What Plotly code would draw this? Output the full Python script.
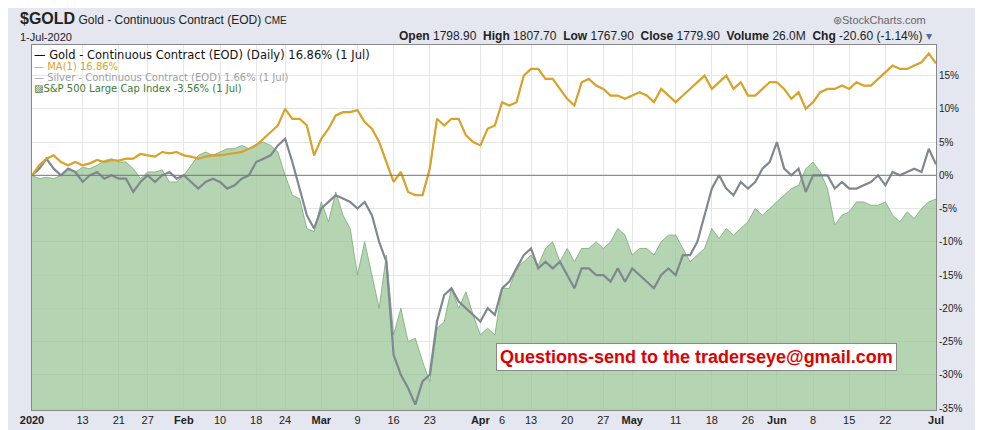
import pandas as pd
import plotly.graph_objects as go

holidays = ["2020-01-20", "2020-02-17", "2020-04-10", "2020-05-25"]
dates = [d for d in pd.bdate_range("2020-01-02", "2020-07-01").strftime("%Y-%m-%d") if d not in holidays]

gold = [0,1.5,2.5,3,2,1.5,2,1.5,1.8,2.3,2,2.3,2.2,2.5,2.5,3.2,3,2.8,3.5,3.3,3.5,
        3,2.8,2.5,2.8,3,3,3.2,3.3,3.5,4,4.5,5.5,6.5,7.5,10,8.5,8.5,7.5,3,
        5.5,7,9,9.5,9.5,9.8,8,7,5,2,-1,0.5,-2.5,-3,-3,1,8.5,7.5,8.5,8.5,6,5,
        4.5,7,7.5,11,10.5,11,15,16,16,14.5,14.5,13,11.5,10.5,14,14.5,13.5,13,12,12,11.5,
        12,12.5,12,11,13,12,11,12,13,14,15,13,14,15,13,14,12,12,13,14,
        14,13,11.5,12.5,10,11,12.5,13,13,13.5,13,14,13.5,13.5,14.5,15.5,16.5,16,16,16.5,17,18.3,
        16.86]
silver = [0,1,2.5,1,0,1,0.5,-1,0,0.5,-0.5,0,-0.5,-0.5,-2.5,-1,0,-1,0,0.5,-0.5,
          0,-1,-2,-1,-0.5,-1,-2,-1.5,-0.5,0,2,2.5,3,4.5,5.5,2,-2,-6,-8,
          -5,-4,-3,-3.5,-4,-5,-4,-6,-10,-13,-27,-30,-32,-34.5,-31,-30,-22,-18,-17,-19,-20,-21,
          -22,-20,-21,-17,-16,-14,-12,-11,-14,-13,-14,-13,-15,-17,-14,-14,-15,-15,-16,-14,-16,
          -14,-15,-16,-17,-15,-14,-15,-12,-12,-10,-6,-2,0,-2,-3,-1,-2,-1,1,2,
          5,1,0,1,-2.5,0,0,0,-2,-1,-2,-2,-1.5,-1,0,-1.5,0.5,0,0.5,1,0.5,4,
          1.66]
spx = [0,-0.5,-0.3,-0.5,0,1,0.5,1.2,1,1.5,2.2,2.5,2,2,1,-0.5,0.5,0.5,0.8,-1,-1,
       0,1.5,3,3.5,3,3.5,4,4,4.5,4,4.7,5,4.5,3.5,0,-3,-3.5,-8,-8.5,
       -4,-7,-2.5,-6,-8,-15,-10,-15,-20,-12,-24,-20,-25,-24.5,-28,-31,-23,-22,-17,-20,-17.5,-21,
       -24,-23,-24,-17,-17,-14,-13,-12,-13.5,-11,-10,-13,-11,-13,-11,-11,-10,-11,-10,-8,-9,
       -12,-11,-11,-12,-10,-9,-9,-11,-13,-12,-11,-8,-9.5,-8,-9,-8,-7,-5,-6,-5,
       -4,-3,-2,-1.5,1,2,0.5,-2,-7.5,-6,-5.5,-4,-4,-4.5,-4.5,-4,-6,-7,-5.5,-6.5,-5,-4,
       -3.56]

tick_dates = ["2020-01-02","2020-01-13","2020-01-21","2020-01-27","2020-02-03","2020-02-10","2020-02-18",
              "2020-02-24","2020-03-02","2020-03-09","2020-03-16","2020-03-23","2020-04-01","2020-04-06",
              "2020-04-13","2020-04-20","2020-04-27","2020-05-01","2020-05-11","2020-05-18","2020-05-26",
              "2020-06-01","2020-06-08","2020-06-15","2020-06-22","2020-07-01"]
tick_text = ["<b>2020</b>","13","21","27","<b>Feb</b>","10","18","24","<b>Mar</b>","9","16","23","<b>Apr</b>","6",
             "13","20","27","<b>May</b>","11","18","26","<b>Jun</b>","8","15","22","<b>Jul</b>"]
y_ticks = [15,10,5,0,-5,-10,-15,-20,-25,-30,-35]

fig = go.Figure()
fig.add_trace(go.Scatter(x=dates, y=[-40]*len(dates), mode="lines", line=dict(width=0), hoverinfo="skip"))
fig.add_trace(go.Scatter(x=dates, y=spx, mode="lines", fill="tonexty", fillcolor="rgba(150,195,145,0.7)",
                         line=dict(color="rgba(120,170,115,0.8)", width=1)))
fig.add_trace(go.Scatter(x=dates, y=silver, mode="lines", line=dict(color="#7f8890", width=2.2)))
fig.add_trace(go.Scatter(x=dates, y=gold, mode="lines", line=dict(color="#222", width=1)))
fig.add_trace(go.Scatter(x=dates, y=gold, mode="lines", line=dict(color="#d9a32a", width=2.2)))

fig.add_hline(y=0, line=dict(color="#777", width=1))

fig.update_layout(
    width=983, height=430, showlegend=False,
    margin=dict(l=22, r=55, t=37, b=22),
    paper_bgcolor="#e4e7ef", plot_bgcolor="white",
    font=dict(family="Liberation Sans", size=11, color="#222"),
    xaxis=dict(range=["2020-01-02", "2020-07-01"], rangebreaks=[dict(bounds=["sat", "mon"]), dict(values=holidays)],
               tickvals=tick_dates, ticktext=tick_text, showgrid=True, gridcolor="#e6e6e6",
               linecolor="#888", mirror=True, showline=True, ticks="", tickfont=dict(size=11)),
    yaxis=dict(side="right", range=[-35.3, 19.6], tickvals=y_ticks, ticktext=[f"{v}%" for v in y_ticks],
               showgrid=True, gridcolor="#e6e6e6", zeroline=False, linecolor="#888", mirror=True, showline=True,
               tickfont=dict(size=10)),
)

fig.add_annotation(xref="paper", yref="paper", x=-0.014, y=1.046, xanchor="left", yanchor="bottom",
                   text="<span style='font-size:16px'><b>$GOLD</b></span> Gold - Continuous Contract (EOD) <span style='font-size:10px'>CME</span>",
                   showarrow=False, font=dict(size=12), borderpad=0)
fig.add_annotation(xref="paper", yref="paper", x=-0.014, y=1.004, xanchor="left", yanchor="bottom",
                   text="1-Jul-2020", showarrow=False, font=dict(size=11), borderpad=0)
fig.add_annotation(xref="paper", yref="paper", x=0.997, y=1.004, xanchor="right", yanchor="bottom",
                   text="<b>Open</b> 1798.90  <b>High</b> 1807.70  <b>Low</b> 1767.90  <b>Close</b> 1779.90  <b>Volume</b> 26.0M  <b>Chg</b> -20.60 (-1.14%) <span style='color:#4a6fb0'>▾</span>",
                   showarrow=False, font=dict(size=12), borderpad=0)
fig.add_annotation(xref="paper", yref="paper", x=0.99, y=1.05, xanchor="right", yanchor="bottom",
                   text="⊛StockCharts.com", showarrow=False, font=dict(size=11, color="#666"), borderpad=0)
legend = [("— Gold - Continuous Contract (EOD) (Daily) 16.86% (1 Jul)", "#111", 11.5),
          ("— MA(1) 16.86%", "#d9a32a", 10),
          ("— Silver - Continuous Contract (EOD) 1.66% (1 Jul)", "#9aa0a8", 10),
          ("▨S&P 500 Large Cap Index -3.56% (1 Jul)", "#3e7a35", 10)]
ys = [0.997, 0.962, 0.932, 0.902]
for (t, c, s), yy in zip(legend, ys):
    fig.add_annotation(xref="paper", yref="paper", x=0.0, y=yy, xanchor="left", yanchor="top",
                       text=t, showarrow=False, font=dict(family="DejaVu Sans", size=s, color=c))
fig.add_annotation(xref="paper", yref="paper", x=0.513, y=0.145, xanchor="left", yanchor="middle",
                   text="<b>Questions-send to the traderseye@gmail.com</b>", showarrow=False,
                   font=dict(family="Liberation Sans", size=18, color="#e00000"),
                   bgcolor="white", bordercolor="#888", borderwidth=1, borderpad=3)

fig.write_html("out.html")
